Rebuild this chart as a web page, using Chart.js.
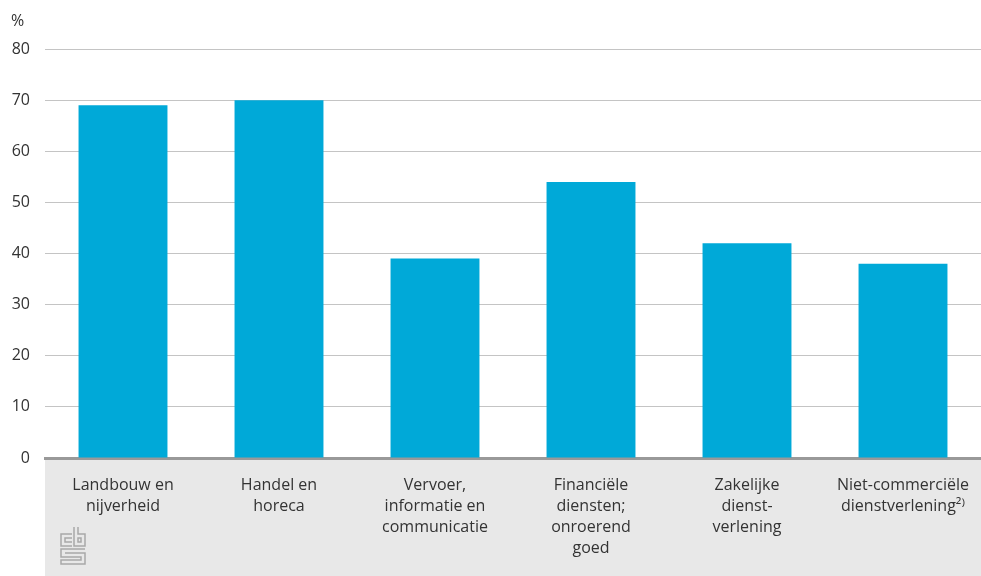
<!DOCTYPE html>
<html>
<head>
<meta charset="utf-8">
<style>
  html, body { margin: 0; padding: 0; background: #fff; }
  #wrap { width: 981px; height: 576px; }
</style>
<script src="https://cdn.jsdelivr.net/npm/chart.js@4/dist/chart.umd.min.js"></script>
</head>
<body>
<div id="wrap"><canvas id="chart"></canvas></div>
<script>
const categories = [
  ['Landbouw en', 'nijverheid'],
  ['Handel en', 'horeca'],
  ['Vervoer,', 'informatie en', 'communicatie'],
  ['Financiële', 'diensten;', 'onroerend', 'goed'],
  ['Zakelijke', 'dienst-', 'verlening'],
  ['Niet-commerciële', 'dienstverlening²⁾'],
];
const shares = [69, 70, 39, 54, 42, 38];
const unitLabel = '%';

const FONT = '"Open Sans", "Noto Sans", sans-serif';

// grey band under the axis, the % label and the small cbs logo
const decor = {
  id: 'decor',
  beforeDraw(chart) {
    const { ctx, chartArea } = chart;
    ctx.save();
    ctx.fillStyle = '#e8e8e8';
    ctx.fillRect(chartArea.left, chartArea.bottom, chartArea.right - chartArea.left, chart.height - chartArea.bottom);
    ctx.restore();
  },
  afterDraw(chart) {
    const { ctx, chartArea } = chart;
    ctx.save();
    ctx.fillStyle = '#333';
    ctx.font = '16px ' + FONT;
    ctx.textBaseline = 'middle';
    ctx.textAlign = 'left';
    ctx.fillText(unitLabel, 11, 21);

    // logo
    const x = chartArea.left + 15, y = chartArea.bottom + 69;
    ctx.strokeStyle = '#a8a8a8';
    ctx.lineWidth = 1.5;
    ctx.beginPath();
    // c
    ctx.moveTo(x + 12, y + 7); ctx.lineTo(x + 1, y + 7); ctx.lineTo(x + 1, y + 19); ctx.lineTo(x + 12, y + 19);
    ctx.moveTo(x + 12, y + 11); ctx.lineTo(x + 5, y + 11); ctx.lineTo(x + 5, y + 15); ctx.lineTo(x + 12, y + 15);
    // b
    ctx.moveTo(x + 14, y); ctx.lineTo(x + 14, y + 19); ctx.lineTo(x + 25, y + 19); ctx.lineTo(x + 25, y + 7); ctx.lineTo(x + 18, y + 7); ctx.lineTo(x + 18, y);
    ctx.rect(x + 18, y + 11, 3, 4);
    // s
    ctx.moveTo(x + 25, y + 22); ctx.lineTo(x + 1, y + 22); ctx.lineTo(x + 1, y + 30); ctx.lineTo(x + 21, y + 30);
    ctx.lineTo(x + 21, y + 33); ctx.lineTo(x + 1, y + 33); ctx.lineTo(x + 1, y + 37); ctx.lineTo(x + 25, y + 37);
    ctx.lineTo(x + 25, y + 26); ctx.lineTo(x + 5, y + 26); ctx.lineTo(x + 5, y + 26);
    ctx.stroke();
    ctx.restore();
  },
};

new Chart(document.getElementById('chart'), {
  type: 'bar',
  data: {
    labels: categories,
    datasets: [{
      label: unitLabel,
      data: shares,
      backgroundColor: '#00a9d8',
      borderWidth: 0,
      barPercentage: 0.57,
      categoryPercentage: 1,
    }],
  },
  options: {
    responsive: true,
    maintainAspectRatio: false,
    animation: false,
    layout: { padding: { top: 49, right: 0, left: 0, bottom: 0 } },
    plugins: {
      legend: { display: false },
      tooltip: { enabled: false },
    },
    scales: {
      x: {
        grid: { display: false },
        border: { display: true, color: '#999', width: 3 },
        ticks: {
          color: '#333',
          font: { family: FONT, size: 16, lineHeight: 1.31 },
          padding: 9,
          maxRotation: 0,
          autoSkip: false,
        },
        afterFit(scale) { scale.height = 118; },
      },
      y: {
        min: 0,
        max: 80,
        grid: { color: '#c4c4c4', lineWidth: 1, drawTicks: false },
        border: { display: false },
        ticks: {
          stepSize: 10,
          color: '#333',
          font: { family: FONT, size: 16 },
          padding: 15,
        },
        afterFit(scale) { scale.width = 45; },
      },
    },
  },
  plugins: [decor],
});
</script>
</body>
</html>
